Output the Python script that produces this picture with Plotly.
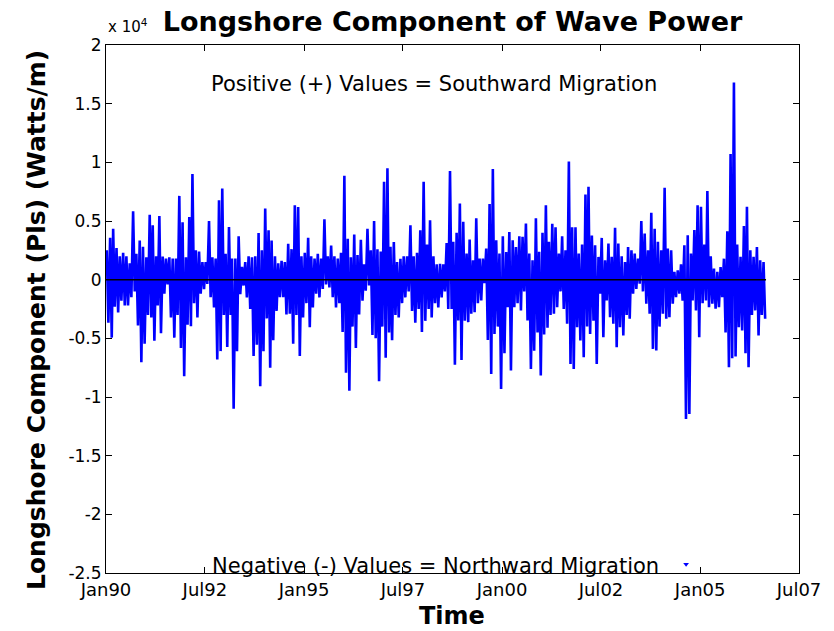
import plotly.graph_objects as go
import pandas as pd

# Monthly maximum (southward, +) and minimum (northward, -) longshore wave power, W/m
# Jan 1990 .. Aug 2006
pos_max = [
    2500, 3570, 4340, 2700, 2000, 2300, 2000, 1400, 5830, 2200,
    3340, 2800, 1900, 5540, 4630, 2000, 5430, 1970, 1800, 1900,
    1800, 1800, 7140, 4900, 1900, 5340, 9000, 2500, 2400, 1500,
    1500, 5000, 1900, 1800, 6770, 7770, 2200, 4490, 1800, 1800,
    3690, 1100, 1500, 2000, 1900, 2000, 3970, 2500, 6060, 4200,
    3340, 2000, 1400, 1600, 1500, 3060, 2600, 6340, 6200, 2000,
    2300, 3570, 2000, 1800, 2200, 1800, 5140, 2000, 2900, 2000,
    1800, 2300, 8860, 3490, 1900, 3840, 2100, 3400, 1300, 4340,
    2500, 5000, 2600, 2400, 8340, 9490, 2800, 3200, 1500, 1770,
    2000, 2000, 4630, 2000, 2300, 4200, 8340, 3000, 5060, 2000,
    1300, 1350, 1300, 3130, 9260, 3220, 3990, 6500, 4930, 2220,
    3420, 1650, 5240, 1800, 1800, 2650, 6440, 9430, 3360, 2220,
    3700, 2360, 4070, 3360, 2790, 3700, 3650, 4790, 2220, 1650,
    5240, 2370, 3990, 6350, 3220, 4760, 4470, 2220, 3700, 2500,
    10060, 4470, 4470, 2220, 3000, 7260, 7920, 3760, 2930, 1940,
    3560, 1650, 3080, 1940, 4420, 3080, 2000, 1510, 2790, 2510,
    2220, 1790, 4990, 3930, 2500, 5700, 4330, 3220, 2510, 7830,
    2650, 2510, 660, 800, 1310, 2930, 3790, 2220, 4220, 6350,
    6210, 3000, 7550, 2000, 940, 660, 1080, 1790, 4130, 10710,
    16810, 3000, 1940, 4570, 6210, 2500, 1940, 2790, 1650, 1510,
]
neg_min = [
    -3660, -4940, -2300, -2800, -1800, -2200, -2200, -1500, -1000, -3900,
    -7030, -5460, -3000, -3230, -5200, -2200, -4570, -1200, -400, -3230,
    -4940, -3000, -5830, -8230, -3830, -3970, -2000, -3230, -1200, -800,
    -370, -1500, -2370, -6800, -6090, -3000, -5740, -3000, -11000, -6090,
    -1230, -500, -1510, -2500, -6510, -5540, -9090, -6090, -3300, -7510,
    -5170, -2660, -1500, -1500, -2970, -2900, -5460, -3000, -6510, -3230,
    -2000, -4060, -2370, -1200, -1510, -800, -400, -660, -1500, -2370,
    -2000, -4460, -7940, -9460, -4000, -5830, -2970, -1800, -940, -500,
    -4710, -4990, -8660, -4000, -6660, -4500, -5170, -3000, -3230, -2000,
    -1510, -1000, -2660, -3660, -2500, -4460, -3510, -2500, -3230, -2000,
    -2370, -1510, -1000, -2500, -2500, -7240, -3480, -6840, -3500, -3620,
    -2910, -2770, -2000, -1770, -300, -5130, -8030, -4620, -4000, -9320,
    -6270, -2340, -7750, -2340, -2000, -2620, -1000, -3480, -7610, -6050,
    -4500, -8170, -4670, -4100, -3000, -2910, -2340, -1000, -2500, -3760,
    -7180, -7610, -4050, -5180, -6610, -4000, -4620, -3500, -7180, -1200,
    -4900, -1770, -3190, -3760, -5750, -4050, -4760, -3000, -3330, -1200,
    -800, -350, -1000, -2050, -2910, -5900, -6040, -4000, -2910, -3330,
    -3190, -2050, -1500, -1200, -1800, -11880, -11450, -1770, -2620, -4900,
    -2000, -1770, -2340, -2050, -2480, -2340, -1500, -4500, -7460, -6700,
    -6550, -4050, -4330, -6270, -7460, -3000, -2620, -4760, -3000, -3330,
]

# isolated plotted point near the bottom of the axes
extra_date = ["2004-08-24"]
extra_val = [-24260]

x_tick_dates = ["1990-01-01", "1992-07-01", "1995-01-01", "1997-07-01",
                "2000-01-01", "2002-07-01", "2005-01-01", "2007-07-01"]
x_tick_text = ["Jan90", "Jul92", "Jan95", "Jul97", "Jan00", "Jul02", "Jan05", "Jul07"]
y_tick_vals = [-25000, -20000, -15000, -10000, -5000, 0, 5000, 10000, 15000, 20000]
y_tick_text = ["-2.5", "-2", "-1.5", "-1", "-0.5", "0", "0.5", "1", "1.5", "2"]

months = pd.date_range("1990-01-01", periods=len(pos_max), freq="MS")
xs, ys = [], []
for m, p, n in zip(months, pos_max, neg_min):
    xs += [m + pd.Timedelta(days=7), m + pd.Timedelta(days=22)]
    ys += [p, n]

fig = go.Figure()
fig.add_trace(go.Scatter(x=xs, y=ys, mode="lines",
                         line=dict(color="#0000FF", width=2.6), hoverinfo="skip"))
fig.add_trace(go.Scatter(x=[months[0], months[-1] + pd.offsets.MonthEnd(1)], y=[0, 0],
                         mode="lines", line=dict(color="black", width=1.5)))
fig.add_trace(go.Scatter(x=pd.to_datetime(extra_date), y=extra_val, mode="markers",
                         marker=dict(symbol="triangle-down", size=5, color="#0000FF")))

reg = "DejaVu Sans"
bold = "DejaVu Sans"
axis_common = dict(showgrid=False, zeroline=False, showline=True, linecolor="black",
                   linewidth=1, mirror="ticks", ticks="inside", ticklen=6,
                   tickcolor="black", tickwidth=1)

fig.update_layout(
    width=834, height=631,
    margin=dict(l=106, r=35, t=45, b=58),
    paper_bgcolor="white", plot_bgcolor="white",
    showlegend=False,
    title=dict(text="<b>Longshore Component of Wave Power</b>",
               font=dict(family=bold, size=27, color="black"),
               x=0.5, xref="paper", xanchor="center",
               y=1 - 22 / 631, yref="container", yanchor="middle"),
    xaxis=dict(type="date", range=["1990-01-01", "2007-07-01"],
               tickvals=x_tick_dates, ticktext=x_tick_text,
               tickfont=dict(family=reg, size=18, color="black"), **axis_common),
    yaxis=dict(range=[-25000, 20000], tickvals=y_tick_vals, ticktext=y_tick_text,
               tickfont=dict(family=reg, size=17, color="black"), **axis_common),
    annotations=[
        dict(text="Positive (+) Values = Southward Migration", xref="paper", yref="paper",
             x=(434 - 106) / 693, y=(573 - 84) / 528, xanchor="center", yanchor="middle",
             showarrow=False, font=dict(family=reg, size=21, color="black")),
        dict(text="Negative (-) Values = Northward Migration", xref="paper", yref="paper",
             x=(435 - 106) / 693, y=(573 - 566) / 528, xanchor="center", yanchor="middle",
             showarrow=False, font=dict(family=reg, size=21, color="black")),
        dict(text="x 10<sup>4</sup>", xref="paper", yref="paper",
             x=0, y=(573 - 26) / 528, xanchor="left", yanchor="middle",
             showarrow=False, font=dict(family=reg, size=15, color="black")),
        dict(text="<b>Time</b>", xref="paper", yref="paper",
             x=(452 - 106) / 693, y=(573 - 616) / 528, xanchor="center", yanchor="middle",
             showarrow=False, font=dict(family=bold, size=24, color="black")),
        dict(text="<b>Longshore Component (Pls) (Watts/m)</b>", xref="paper", yref="paper",
             x=(37 - 106) / 693, y=(573 - 320) / 528, xanchor="center", yanchor="middle",
             textangle=-90, showarrow=False, font=dict(family=bold, size=25, color="black")),
    ],
)

fig.write_html("out.html")
